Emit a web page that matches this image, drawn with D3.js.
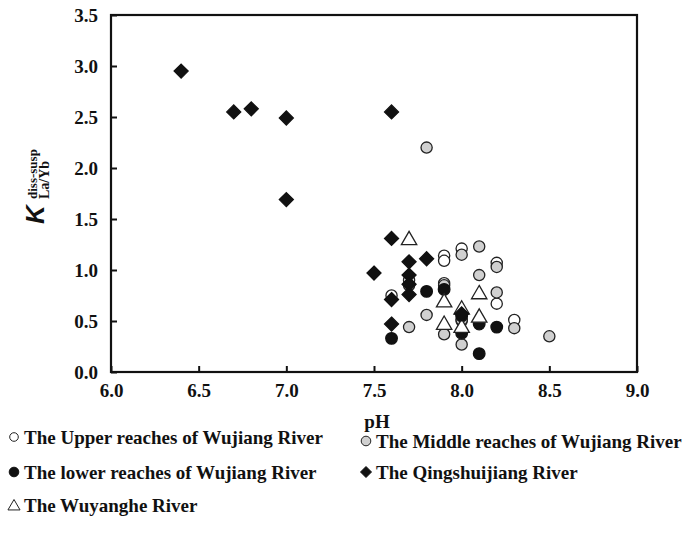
<!DOCTYPE html>
<html>
<head>
<meta charset="utf-8">
<script src="https://cdn.jsdelivr.net/npm/d3@7"></script>
<style>
  body { margin: 0; background: #fff; }
  svg text { font-family: "Liberation Serif", "Times New Roman", serif; font-weight: bold; fill: #111; }
  .tick text { font-size: 19px; }
</style>
</head>
<body>
<script>
const width = 690;
const height = 541;

// data: [pH, K]
const upperWujiang = [[7.6, 0.75], [7.7, 0.9], [7.7, 0.85], [7.9, 1.14], [7.9, 1.09], [7.9, 0.87],
  [8.0, 1.21], [8.0, 0.5], [8.2, 1.07], [8.2, 0.67], [8.3, 0.51]];
const middleWujiang = [[7.8, 2.2], [7.7, 0.44], [7.8, 0.56], [7.9, 0.85], [7.9, 0.37], [8.0, 1.15],
  [8.0, 0.51], [8.0, 0.27], [8.1, 1.23], [8.1, 0.95], [8.2, 1.03], [8.2, 0.78], [8.3, 0.43], [8.5, 0.35]];
const lowerWujiang = [[7.6, 0.33], [7.8, 0.79], [7.9, 0.81], [8.0, 0.38], [8.0, 0.55], [8.1, 0.47],
  [8.1, 0.18], [8.2, 0.44]];
const wuyanghe = [[7.7, 1.31], [7.9, 0.7], [7.9, 0.48], [8.0, 0.63], [8.0, 0.45], [8.1, 0.78], [8.1, 0.55]];
const qingshuijiang = [[6.4, 2.95], [6.7, 2.55], [6.8, 2.58], [7.0, 2.49], [7.0, 1.69], [7.6, 2.55],
  [7.6, 1.31], [7.5, 0.97], [7.7, 1.08], [7.8, 1.11], [7.7, 0.95], [7.7, 0.86], [7.7, 0.76],
  [7.6, 0.71], [7.6, 0.47], [8.0, 0.57]];

const xTicks = [6.0, 6.5, 7.0, 7.5, 8.0, 8.5, 9.0];
const yTicks = [0.0, 0.5, 1.0, 1.5, 2.0, 2.5, 3.0, 3.5];

const margin = {top: 15, right: 53, bottom: 169, left: 111};

const x = d3.scaleLinear().domain([6, 9]).range([margin.left, width - margin.right]);
const y = d3.scaleLinear().domain([0, 3.5]).range([height - margin.bottom, margin.top]);

const svg = d3.select("body")
  .append("svg")
  .attr("width", width)
  .attr("height", height);

// symbol paths
const circle = r => d3.symbol().type(d3.symbolCircle).size(Math.PI * r * r)();
const diamond = s => `M0,${-s}L${s},0L0,${s}L${-s},0Z`;
const triangle = s => `M0,${-s}L${s * 1.1},${s * 0.9}L${-s * 1.1},${s * 0.9}Z`;

const series = [
  {name: "The Upper reaches of Wujiang River", data: upperWujiang, path: circle(5.6), lpath: circle(4.3), fill: "#fff", stroke: "#222"},
  {name: "The Middle reaches of Wujiang River", data: middleWujiang, path: circle(5.6), lpath: circle(4.8), fill: "#d0d0d0", stroke: "#222"},
  {name: "The lower reaches of Wujiang River", data: lowerWujiang, path: circle(5.8), lpath: circle(4.8), fill: "#111", stroke: "#111"},
  {name: "The Wuyanghe River", data: wuyanghe, path: triangle(7), lpath: triangle(5.5), fill: "#fff", stroke: "#222"},
  {name: "The Qingshuijiang River", data: qingshuijiang, path: diamond(7), lpath: diamond(5.5), fill: "#111", stroke: "#111"}
];

// axes
const plotH = height - margin.bottom;
const xAxis = svg.append("g")
  .attr("transform", `translate(0,${plotH})`)
  .call(d3.axisBottom(x).tickValues(xTicks).tickSizeInner(-6).tickSizeOuter(0).tickPadding(12).tickFormat(d3.format(".1f")));
xAxis.select(".domain").remove();
xAxis.selectAll("line").attr("stroke", "#111").attr("stroke-width", 2);

const yAxis = svg.append("g")
  .attr("transform", `translate(${margin.left},0)`)
  .call(d3.axisLeft(y).tickValues(yTicks).tickSizeInner(-6).tickSizeOuter(0).tickPadding(13).tickFormat(d3.format(".1f")));
yAxis.select(".domain").remove();
yAxis.selectAll("line").attr("stroke", "#111").attr("stroke-width", 2);

svg.append("rect")
  .attr("x", x(6)).attr("y", y(3.5))
  .attr("width", x(9) - x(6)).attr("height", y(0) - y(3.5))
  .attr("fill", "none").attr("stroke", "#111").attr("stroke-width", 2.2);

// points
series.forEach(s => {
  svg.append("g").selectAll("path")
    .data(s.data)
    .enter()
    .append("path")
    .attr("d", s.path)
    .attr("transform", d => `translate(${x(d[0])},${y(d[1])})`)
    .attr("fill", s.fill)
    .attr("stroke", s.stroke)
    .attr("stroke-width", 1.3);
});

// axis titles
svg.append("text")
  .attr("x", 377).attr("y", 428)
  .attr("text-anchor", "middle")
  .attr("font-size", 19)
  .text("pH");

svg.append("text")
  .attr("transform", "translate(44,224) rotate(-90)")
  .attr("font-size", 26)
  .style("font-family", "Liberation Sans")
  .style("font-style", "italic")
  .text("K");
svg.append("text")
  .attr("transform", "translate(37,199) rotate(-90)")
  .attr("font-size", 13)
  .text("diss-susp");
svg.append("text")
  .attr("transform", "translate(49,199) rotate(-90)")
  .attr("font-size", 14)
  .text("La/Yb");

// legend
const legendPos = [
  {s: 0, x: 14, y: 437}, {s: 1, x: 366, y: 441},
  {s: 2, x: 14, y: 472}, {s: 4, x: 366, y: 472},
  {s: 3, x: 14, y: 505}
];
legendPos.forEach(p => {
  const s = series[p.s];
  const g = svg.append("g").attr("transform", `translate(${p.x},${p.y})`);
  g.append("path").attr("d", s.lpath).attr("fill", s.fill).attr("stroke", s.stroke).attr("stroke-width", 1);
  g.append("text").attr("x", 10).attr("y", 6.5).attr("font-size", 19).text(s.name);
});
</script>
</body>
</html>
